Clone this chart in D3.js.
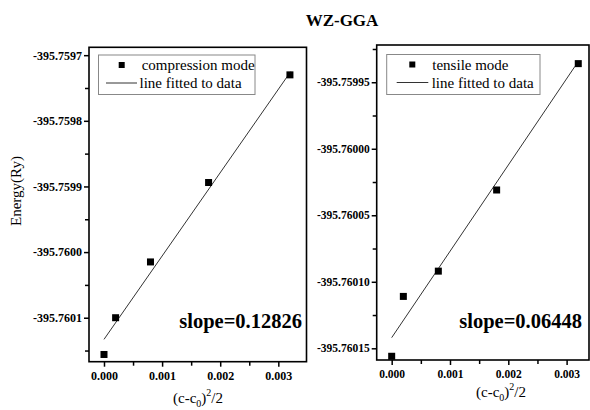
<!DOCTYPE html>
<html><head><meta charset="utf-8">
<script src="https://cdn.jsdelivr.net/npm/d3@7/dist/d3.min.js"></script>
<style>
body{margin:0;background:#fff;}
svg{display:block;}
text{font-family:"Liberation Serif","Times New Roman",serif;fill:#000;}
</style></head><body>
<svg id="c" width="590" height="410"></svg>
<script>
// ---- data ----
const xValues = [0, 0.0002, 0.0008, 0.0018, 0.0032];
const compressionEnergy = [-395.760156, -395.7601, -395.760015, -395.759894, -395.75973];
const tensileEnergy = [-395.760156, -395.760111, -395.760092, -395.760031, -395.759936];
const compressionFitX = [0, 0.003213];
const compressionFitY = [-395.760133, -395.759725];
const tensileFitX = [0, 0.003144];
const tensileFitY = [-395.760142, -395.759938];
const xTicks = [0, 0.001, 0.002, 0.003];
const xTickLabels = ["0.000", "0.001", "0.002", "0.003"];
const xMinorTicks = [0.0005, 0.0015, 0.0025];
const leftYTicks = [-395.7597, -395.7598, -395.7599, -395.7600, -395.7601];
const leftYTickLabels = ["-395.7597", "-395.7598", "-395.7599", "-395.7600", "-395.7601"];
const leftYMinor = [-395.75975, -395.75985, -395.75995, -395.76005, -395.76015];
const rightYTicks = [-395.75995, -395.76000, -395.76005, -395.76010, -395.76015];
const rightYTickLabels = ["-395.75995", "-395.76000", "-395.76005", "-395.76010", "-395.76015"];
const rightYMinor = [-395.759925, -395.759975, -395.760025, -395.760075, -395.760125];
const legendLabelsLeft = ["compression mode", "line fitted to data"];
const legendLabelsRight = ["tensile mode", "line fitted to data"];
const slopeLeft = "slope=0.12826";
const slopeRight = "slope=0.06448";
const title = "WZ-GGA";

const svg = d3.select("#c");

function panel(o) {
  const x = d3.scaleLinear().domain(o.xDomain).range([o.left, o.right]);
  const y = d3.scaleLinear().domain(o.yDomain).range([o.bottom, o.top]);
  const g = svg.append("g");

  // y axis major
  const ya = g.append("g").attr("transform", `translate(${o.left},0)`)
    .call(d3.axisLeft(y).tickValues(o.yTicks).tickSize(5).tickSizeOuter(0)
      .tickFormat((d, i) => o.yTickLabels[i]));
  ya.select(".domain").remove();
  ya.selectAll("line").attr("stroke-width", 1.5);
  ya.selectAll("text").attr("font-weight", "bold").attr("font-size", o.tickFont).attr("x", -7);
  const ym = g.append("g").attr("transform", `translate(${o.left},0)`)
    .call(d3.axisLeft(y).tickValues(o.yMinor).tickSize(4).tickSizeOuter(0).tickFormat(""));
  ym.select(".domain").remove();
  ym.selectAll("line").attr("stroke-width", 1.5);

  // x axis
  const xa = g.append("g").attr("transform", `translate(0,${o.bottom})`)
    .call(d3.axisBottom(x).tickValues(xTicks).tickSize(5).tickSizeOuter(0)
      .tickFormat((d, i) => xTickLabels[i]));
  xa.select(".domain").remove();
  xa.selectAll("line").attr("stroke-width", 1.5);
  xa.selectAll("text").attr("font-weight", "bold").attr("font-size", o.tickFont).attr("y", 10);
  const xm = g.append("g").attr("transform", `translate(0,${o.bottom})`)
    .call(d3.axisBottom(x).tickValues(xMinorTicks).tickSize(4).tickSizeOuter(0).tickFormat(""));
  xm.select(".domain").remove();
  xm.selectAll("line").attr("stroke-width", 1.5);

  // frame
  g.append("rect").attr("x", o.left).attr("y", o.top)
    .attr("width", o.right - o.left).attr("height", o.bottom - o.top)
    .attr("fill", "none").attr("stroke", "#000").attr("stroke-width", 1.6);

  // fit line
  const line = d3.line().x(d => x(d[0])).y(d => y(d[1]));
  g.append("path").datum(o.fitX.map((v, i) => [v, o.fitY[i]]))
    .attr("d", line).attr("fill", "none").attr("stroke", "#333").attr("stroke-width", 1);

  // points
  const s = 7;
  g.selectAll("rect.pt").data(xValues.map((v, i) => [v, o.yVals[i]])).enter()
    .append("rect").attr("class", "pt")
    .attr("x", d => x(d[0]) - s / 2).attr("y", d => y(d[1]) - s / 2)
    .attr("width", s).attr("height", s).attr("fill", "#000");

  // legend
  const L = o.legend;
  g.append("rect").attr("x", L.x).attr("y", L.y).attr("width", L.w).attr("height", L.h)
    .attr("fill", "#fff").attr("stroke", "#888").attr("stroke-width", 1);
  g.append("rect").attr("x", L.mx - 3).attr("y", L.y + 10 - 3).attr("width", 6).attr("height", 6).attr("fill", "#000");
  g.append("line").attr("x1", L.lx1).attr("x2", L.lx2).attr("y1", L.y + 28).attr("y2", L.y + 28)
    .attr("stroke", "#333").attr("stroke-width", 1);
  g.append("text").attr("x", L.tx).attr("y", L.y + 15).attr("font-size", 15).text(o.legendLabels[0]);
  g.append("text").attr("x", L.t2x).attr("y", L.y + 33).attr("font-size", 15).text(o.legendLabels[1]);

  // slope
  g.append("text").attr("x", o.slopeX).attr("y", 328).attr("font-size", 20.5)
    .attr("font-weight", "bold").attr("text-anchor", "end").text(o.slope);

  // x label
  const xl = g.append("text").attr("x", o.xlabX).attr("y", o.xlabY).attr("font-size", 15)
    .attr("text-anchor", "middle");
  xl.append("tspan").text("(c-c");
  xl.append("tspan").attr("font-size", 10).attr("dy", 4).text("0");
  xl.append("tspan").attr("dy", -4).text(")");
  xl.append("tspan").attr("font-size", 10).attr("dy", -7).text("2");
  xl.append("tspan").attr("dy", 7).text("/2");
}

panel({
  left: 89, right: 306.5, top: 47.3, bottom: 361.7,
  xDomain: [-0.000258, 0.003485], yDomain: [-395.760167, -395.759688],
  yTicks: leftYTicks, yTickLabels: leftYTickLabels, yMinor: leftYMinor, tickFont: 12,
  yVals: compressionEnergy, fitX: compressionFitX, fitY: compressionFitY,
  legend: {x: 98.5, y: 55, w: 156.5, h: 39.5, mx: 121.7, lx1: 106, lx2: 137, tx: 141.7, t2x: 139.5},
  legendLabels: legendLabelsLeft, slope: slopeLeft, slopeX: 302,
  xlabX: 198, xlabY: 403
});
panel({
  left: 376.7, right: 589, top: 45, bottom: 360,
  xDomain: [-0.000257, 0.003384], yDomain: [-395.7601588, -395.759922],
  yTicks: rightYTicks, yTickLabels: rightYTickLabels, yMinor: rightYMinor, tickFont: 11.5,
  yVals: tensileEnergy, fitX: tensileFitX, fitY: tensileFitY,
  legend: {x: 386.7, y: 54.5, w: 153.3, h: 40, mx: 412.3, lx1: 396.7, lx2: 428.3, tx: 432.3, t2x: 431.7},
  legendLabels: legendLabelsRight, slope: slopeRight, slopeX: 582,
  xlabX: 501, xlabY: 397
});

// y label
svg.append("text").attr("transform", "translate(21,191) rotate(-90)")
  .attr("text-anchor", "middle").attr("font-size", 15).text("Energy(Ry)");
// title
svg.append("text").attr("x", 342).attr("y", 26).attr("text-anchor", "middle")
  .attr("font-size", 17).attr("font-weight", "bold").text(title);
</script></body></html>
